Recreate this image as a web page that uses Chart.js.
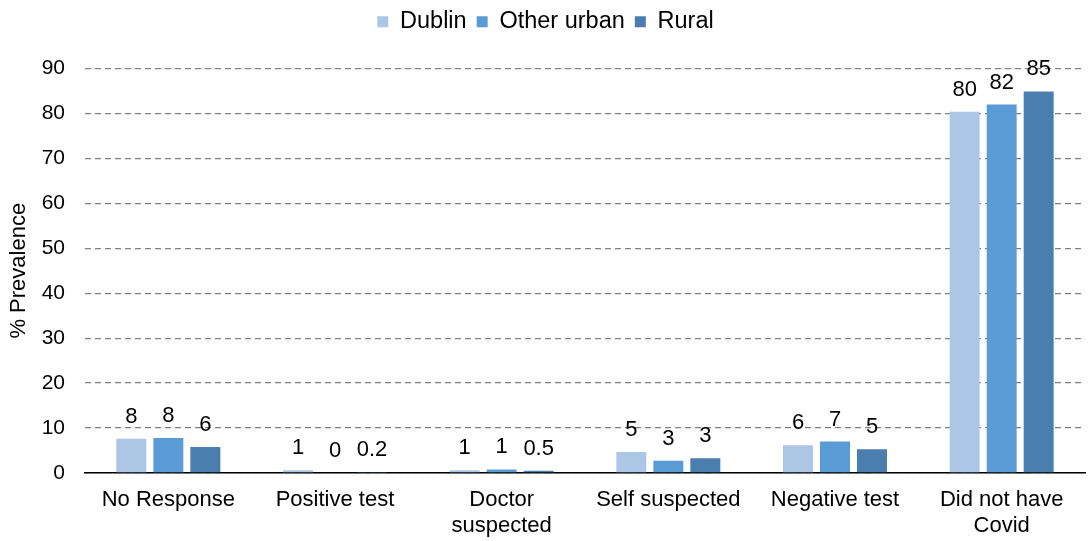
<!DOCTYPE html>
<html>
<head>
<meta charset="utf-8">
<script src="https://cdn.jsdelivr.net/npm/chart.js@4/dist/chart.umd.min.js"></script>
<style>
  html, body { margin: 0; padding: 0; background: #fff; }
  #wrap { width: 1089px; height: 541px; }
</style>
</head>
<body>
<div id="wrap"><canvas id="chart"></canvas></div>
<script>
const categories = [["No Response"], ["Positive test"], ["Doctor", "suspected"], ["Self suspected"], ["Negative test"], ["Did not have", "Covid"]];
const dublin = [7.6, 0.6, 0.6, 4.7, 6.2, 80.4];
const otherUrban = [7.8, 0, 0.8, 2.7, 7.0, 82.0];
const rural = [5.8, 0.2, 0.5, 3.3, 5.3, 84.9];
const dublinLabels = ["8", "1", "1", "5", "6", "80"];
const otherUrbanLabels = ["8", "0", "1", "3", "7", "82"];
const ruralLabels = ["6", "0.2", "0.5", "3", "5", "85"];

const FONT = "Liberation Sans, Arial, sans-serif";

// draws the value text above each bar
const valueLabels = {
    id: "valueLabels",
    afterDatasetsDraw(chart) {
        const ctx = chart.ctx;
        const labelSets = [dublinLabels, otherUrbanLabels, ruralLabels];
        ctx.save();
        ctx.font = "22px " + FONT;
        ctx.fillStyle = "#000";
        ctx.textAlign = "center";
        ctx.textBaseline = "middle";
        chart.data.datasets.forEach((ds, i) => {
            chart.getDatasetMeta(i).data.forEach((bar, j) => {
                ctx.fillText(labelSets[i][j], bar.x, bar.y - 22);
            });
        });
        ctx.restore();
    }
};

// extra room under the legend so the plot starts lower
const legendSpace = {
    id: "legendSpace",
    beforeInit(chart) {
        const fit = chart.legend.fit;
        chart.legend.fit = function () {
            fit.call(this);
            this.height += 25;
        };
    }
};

new Chart(document.getElementById("chart"), {
    type: "bar",
    data: {
        labels: categories,
        datasets: [
            { label: "Dublin", data: dublin, backgroundColor: "#adc6e6" },
            { label: "Other urban", data: otherUrban, backgroundColor: "#5b9bd5" },
            { label: "Rural", data: rural, backgroundColor: "#4a7eae" }
        ]
    },
    options: {
        responsive: true,
        maintainAspectRatio: false,
        animation: false,
        categoryPercentage: 0.666,
        barPercentage: 0.81,
        layout: { padding: { left: 6, right: 4, top: 0, bottom: 0 } },
        plugins: {
            legend: {
                position: "top",
                labels: {
                    font: { family: FONT, size: 23.5 },
                    color: "#000",
                    boxWidth: 11,
                    boxHeight: 11,
                    padding: 10
                }
            },
            tooltip: { enabled: false }
        },
        scales: {
            x: {
                afterFit(scale) { scale.height = 68; },
                grid: { display: false, drawTicks: false },
                border: { display: true, color: "#000", width: 1.5 },
                ticks: {
                    font: { family: FONT, size: 22, lineHeight: 1.18 },
                    color: "#000",
                    padding: 14,
                    maxRotation: 0
                }
            },
            y: {
                min: 0,
                max: 90,
                afterFit(scale) { scale.width = 79; },
                ticks: {
                    stepSize: 10,
                    font: { family: FONT, size: 21 },
                    color: "#000",
                    padding: 20
                },
                grid: {
                    color: "#7f7f7f",
                    lineWidth: 1.3,
                    drawTicks: false
                },
                border: { display: false, dash: [6, 4] },
                title: {
                    display: true,
                    text: "% Prevalence",
                    font: { family: FONT, size: 22 },
                    color: "#000",
                    padding: 0
                }
            }
        }
    },
    plugins: [valueLabels, legendSpace]
});
</script>
</body>
</html>
